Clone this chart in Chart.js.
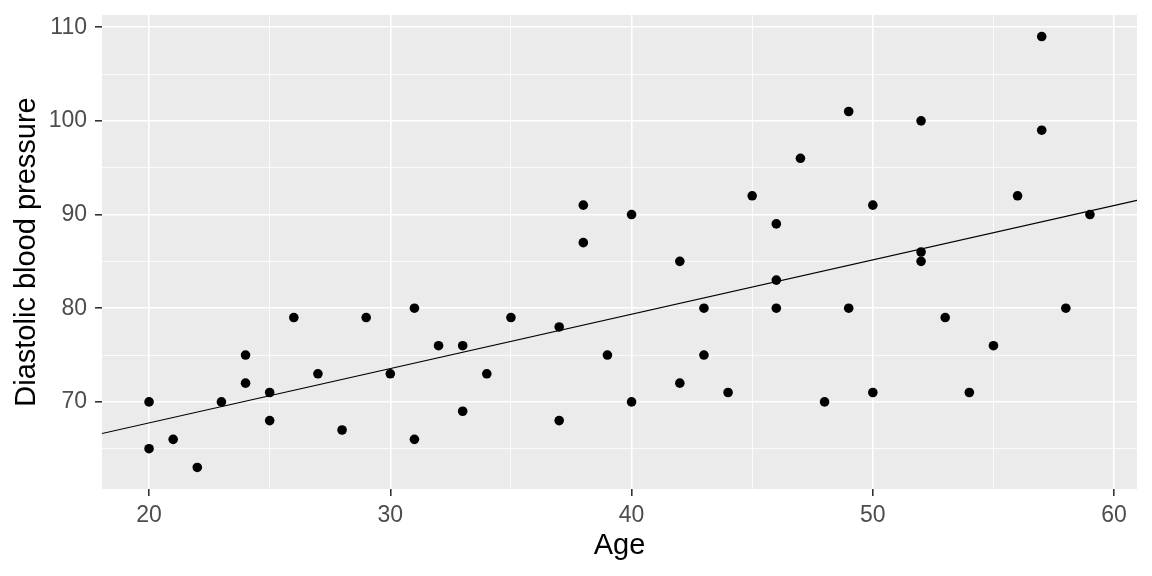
<!DOCTYPE html>
<html>
<head>
<meta charset="utf-8">
<script src="https://cdn.jsdelivr.net/npm/chart.js@4/dist/chart.umd.min.js"></script>
<style>
  html, body { margin: 0; padding: 0; background: #ffffff; }
  #wrap { width: 1152px; height: 576px; }
</style>
</head>
<body>
<div id="wrap"><canvas id="c" width="1152" height="576"></canvas></div>
<script>
// Data (Age vs diastolic blood pressure)
const ages = [20,20,21,22,23,24,24,25,25,26,27,28,29,30,31,31,32,33,33,34,35,37,37,38,38,39,40,40,42,42,43,43,44,45,46,46,46,47,48,49,49,50,50,52,52,52,53,54,55,56,57,57,58,59];
const dbp  = [70,65,66,63,70,75,72,71,68,79,73,67,79,73,80,66,76,76,69,73,79,78,68,91,87,75,90,70,85,72,80,75,71,92,89,83,80,96,70,101,80,91,71,100,86,85,79,71,76,92,109,99,80,90];
const xTickLabels = ['20','30','40','50','60'];
const yTickLabels = ['70','80','90','100','110'];
const xTitle = 'Age';
const yTitle = 'Diastolic blood pressure';

// ggplot-style 5% expansion of the data range
function expand(arr) {
  const lo = Math.min(...arr), hi = Math.max(...arr);
  const d = (hi - lo) * 0.05;
  return [lo - d, hi + d];
}
const [xMin, xMax] = expand(ages);
const [yMin, yMax] = expand(dbp);

// least-squares fit (geom_smooth(method = "lm", se = FALSE))
const n = ages.length;
const mx = ages.reduce((a, b) => a + b, 0) / n;
const my = dbp.reduce((a, b) => a + b, 0) / n;
let sxy = 0, sxx = 0;
for (let i = 0; i < n; i++) { sxy += (ages[i] - mx) * (dbp[i] - my); sxx += (ages[i] - mx) ** 2; }
const slope = sxy / sxx;
const intercept = my - slope * mx;
const fitLine = [xMin, xMax].map(x => ({ x: x, y: intercept + slope * x }));
const points = ages.map((a, i) => ({ x: a, y: dbp[i] }));

const panelBg = {
  id: 'panelBg',
  beforeDraw(chart) {
    const { ctx, chartArea: a } = chart;
    ctx.save();
    ctx.fillStyle = '#EBEBEB';
    ctx.fillRect(a.left, a.top, a.right - a.left, a.bottom - a.top);
    ctx.restore();
  }
};

const isMajor = v => Math.abs(v % 10) < 1e-6;
const FONT = "'Liberation Sans', Arial, sans-serif";

new Chart(document.getElementById('c'), {
  type: 'scatter',
  data: {
    datasets: [
      {
        data: fitLine,
        showLine: true,
        borderColor: '#000000',
        borderWidth: 1.1,
        pointRadius: 0,
        fill: false
      },
      {
        data: points,
        backgroundColor: '#000000',
        borderColor: '#000000',
        borderWidth: 0,
        pointRadius: 4.8
      }
    ]
  },
  options: {
    responsive: false,
    animation: false,
    devicePixelRatio: 1,
    events: [],
    layout: { padding: { left: 0, top: 15, right: 15, bottom: 0 } },
    plugins: { legend: { display: false }, tooltip: { enabled: false } },
    scales: {
      x: {
        type: 'linear',
        min: xMin,
        max: xMax,
        afterFit(s) { s.height = 87; s.paddingLeft = 0; s.paddingRight = 0; },
        border: { display: false },
        grid: {
          color: '#FFFFFF',
          lineWidth: c => isMajor(c.tick.value) ? 1.6 : 0.8,
          tickColor: c => isMajor(c.tick.value) ? '#333333' : 'rgba(0,0,0,0)',
          tickWidth: 1.6,
          tickLength: 7,
          drawTicks: true
        },
        ticks: {
          stepSize: 5,
          includeBounds: false,
          autoSkip: false,
          maxRotation: 0,
          padding: 6,
          color: '#4D4D4D',
          font: { family: FONT, size: 23 },
          callback: v => (isMajor(v) && xTickLabels.includes(String(v))) ? String(v) : ''
        },
        title: {
          display: true,
          text: xTitle,
          color: '#000000',
          font: { family: FONT, size: 29 },
          padding: { top: 0, bottom: 13 }
        }
      },
      y: {
        type: 'linear',
        min: yMin,
        max: yMax,
        afterFit(s) { s.width = 102; s.paddingTop = 0; s.paddingBottom = 0; },
        border: { display: false },
        grid: {
          color: '#FFFFFF',
          lineWidth: c => isMajor(c.tick.value) ? 1.6 : 0.8,
          tickColor: c => isMajor(c.tick.value) ? '#333333' : 'rgba(0,0,0,0)',
          tickWidth: 1.6,
          tickLength: 7,
          drawTicks: true
        },
        ticks: {
          stepSize: 5,
          includeBounds: false,
          autoSkip: false,
          padding: 8,
          color: '#4D4D4D',
          font: { family: FONT, size: 23 },
          callback: v => (isMajor(v) && yTickLabels.includes(String(v))) ? String(v) : ''
        },
        title: {
          display: true,
          text: yTitle,
          color: '#000000',
          font: { family: FONT, size: 29 },
          padding: { top: 10, bottom: 0 }
        }
      }
    }
  },
  plugins: [panelBg]
});
</script>
</body>
</html>
